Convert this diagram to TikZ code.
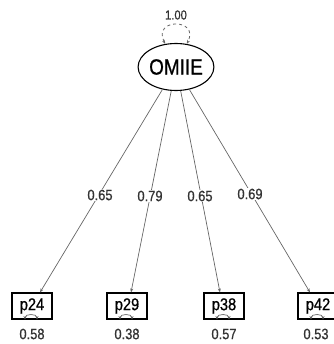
\documentclass[tikz,border=0pt]{standalone}
\usepackage{fontspec}
\setmainfont{Liberation Sans}[FakeStretch=0.86,FakeBold=0.8]
\usetikzlibrary{shapes.geometric,arrows.meta}
\definecolor{txt}{HTML}{333333}
\definecolor{ln}{HTML}{666666}
\begin{document}
\begin{tikzpicture}[x=1pt,y=-1pt,
  latent/.style={draw=black,line width=1.1pt,ellipse,minimum width=61pt,minimum height=47pt,inner sep=0pt,font=\fontsize{22}{22}\selectfont},
  manifest/.style={draw=black,line width=1.1pt,rectangle,minimum width=40pt,minimum height=26pt,inner sep=0pt,font=\fontsize{17}{17}\selectfont},
  load/.style={draw=ln,line width=0.7pt,-{Stealth[length=4pt,width=3pt]}},
  lab/.style={text=txt,font=\fontsize{15}{15}\selectfont,inner sep=1pt},
  resid/.style={draw=ln,line width=0.7pt,{Stealth[length=3.5pt,width=3pt]}-{Stealth[length=3.5pt,width=3pt]}},
  loopst/.style={draw=ln,line width=0.8pt,dashed,{Stealth[length=4pt,width=3pt]}-{Stealth[length=4pt,width=3pt]}}]
\useasboundingbox (0,0) rectangle (333,344);
\node[latent] (om) at (176,67) {OMIIE};
\node[manifest] (p24) at (32,306) {p24};
\node[manifest] (p29) at (127,306) {p29};
\node[manifest] (p38) at (224,306) {p38};
\node[manifest] (p42) at (318,306) {p42};
% self loop
\coordinate (la) at (om.115);
\coordinate (lb) at (om.65);
\draw[loopst] (la) .. controls (152,18) and (200,18) .. (lb);
\node[lab,font=\fontsize{13}{13}\selectfont] (v) at (176,15) {1.00};
% loadings
\draw[load] (om) -- (p24.north -| 40,0);
\draw[load] (om) -- (p29.north -| 131,0);
\draw[load] (om) -- (p38.north -| 220,0);
\draw[load] (om) -- (p42.north -| 310,0);
\node[lab,fill=white] (l1) at (100,195) {0.65};
\node[lab,fill=white] (l2) at (150,196) {0.79};
\node[lab,fill=white] (l3) at (200,196) {0.65};
\node[lab,fill=white] (l4) at (250,194) {0.69};
% residuals
\foreach \n in {p24,p29,p38,p42}{
  \coordinate (\n a) at ([xshift=-7pt]\n.south);
  \coordinate (\n b) at ([xshift=5pt]\n.south);
  \draw[resid] (\n a) .. controls ([yshift=6pt]\n a) and ([yshift=6pt]\n b) .. (\n b);
}
\node[lab] (r1) at (32,334) {0.58};
\node[lab] (r2) at (127,334) {0.38};
\node[lab] (r3) at (224,334) {0.57};
\node[lab] (r4) at (316,334) {0.53};
\end{tikzpicture}
\end{document}
